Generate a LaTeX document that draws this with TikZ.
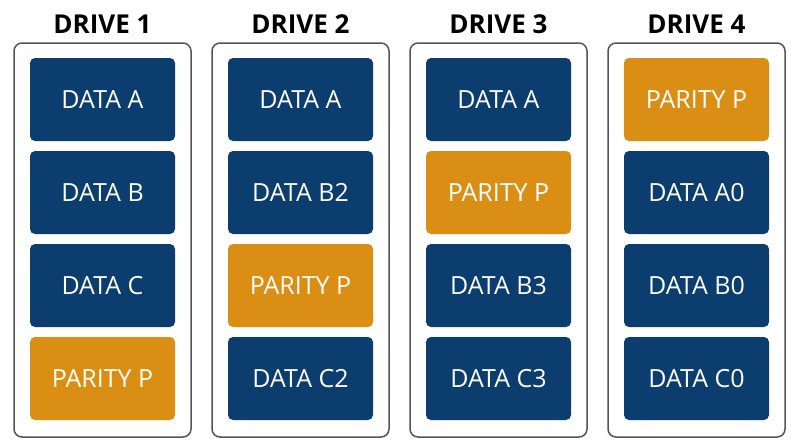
\documentclass[tikz,border=0pt]{standalone}
\usepackage{fontspec}
\setmainfont{Open Sans}
\usepackage{tikz}
\usetikzlibrary{positioning}
\definecolor{raidnavy}{RGB}{11,62,111}
\definecolor{raidorange}{RGB}{219,142,20}
\definecolor{raidframe}{RGB}{85,85,85}

\begin{document}
\begin{tikzpicture}[x=0.5pt,y=-0.5pt,
  drivebox/.style={draw=raidframe,line width=0.75pt,rounded corners=4pt,fill=white,minimum width=88.5pt,minimum height=197pt,inner sep=0pt},
  drivetitle/.style={font=\fontsize{13}{15}\selectfont\bfseries,text=black},
  datablk/.style={fill=raidnavy,text=white,rounded corners=2.5pt,minimum width=72.5pt,minimum height=41.5pt,inner sep=0pt,font=\fontsize{12.5}{15}\selectfont},
  parblk/.style={datablk,fill=raidorange}]
  \useasboundingbox (0,0) rectangle (800,447);
  % drive frames
  \node[drivebox] (drive1) at (102.5,240) {};
  \node[drivebox] (drive2) at (300.5,240) {};
  \node[drivebox] (drive3) at (498.5,240) {};
  \node[drivebox] (drive4) at (696.5,240) {};
  \node[drivetitle] (title1) at (102.5,24) {DRIVE 1};
  \node[drivetitle] (title2) at (300.5,24) {DRIVE 2};
  \node[drivetitle] (title3) at (498.5,24) {DRIVE 3};
  \node[drivetitle] (title4) at (696.5,24) {DRIVE 4};
  % drive 1
  \node[datablk] (d1a) at (102.5,99.5) {DATA A};
  \node[datablk] (d1b) at (102.5,192.5) {DATA B};
  \node[datablk] (d1c) at (102.5,285.5) {DATA C};
  \node[parblk] (d1p) at (102.5,378.5) {PARITY P};
  % drive 2
  \node[datablk] (d2a) at (300.5,99.5) {DATA A};
  \node[datablk] (d2b) at (300.5,192.5) {DATA B2};
  \node[parblk] (d2p) at (300.5,285.5) {PARITY P};
  \node[datablk] (d2c) at (300.5,378.5) {DATA C2};
  % drive 3
  \node[datablk] (d3a) at (498.5,99.5) {DATA A};
  \node[parblk] (d3p) at (498.5,192.5) {PARITY P};
  \node[datablk] (d3b) at (498.5,285.5) {DATA B3};
  \node[datablk] (d3c) at (498.5,378.5) {DATA C3};
  % drive 4
  \node[parblk] (d4p) at (696.5,99.5) {PARITY P};
  \node[datablk] (d4a) at (696.5,192.5) {DATA A0};
  \node[datablk] (d4b) at (696.5,285.5) {DATA B0};
  \node[datablk] (d4c) at (696.5,378.5) {DATA C0};
\end{tikzpicture}
\end{document}
